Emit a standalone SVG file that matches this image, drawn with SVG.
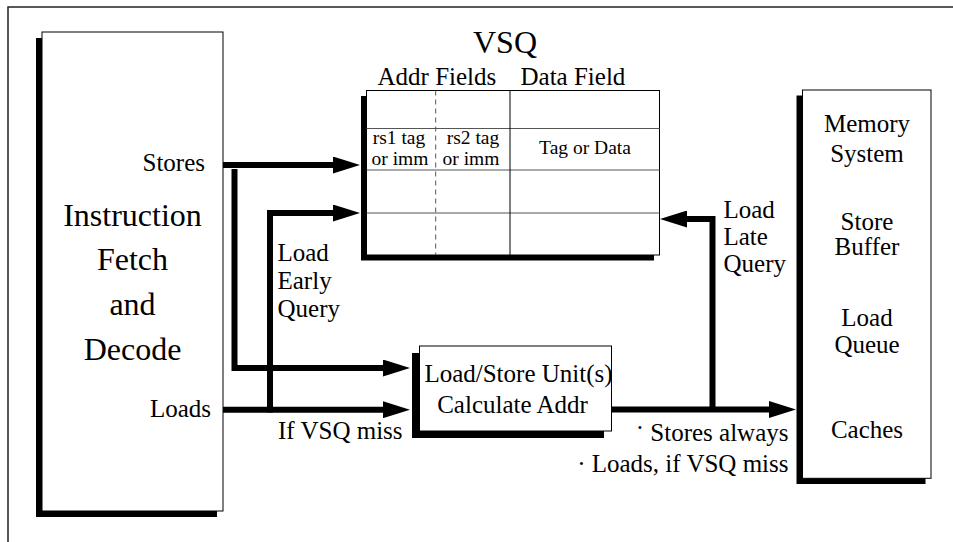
<svg xmlns="http://www.w3.org/2000/svg" width="953" height="542" viewBox="0 0 953 542">
<style>
text{font-family:"Liberation Serif","Times New Roman",serif;fill:#000}
.big{font-size:32px}
.mid{font-size:25px}
.sm{font-size:19.5px}
.c{text-anchor:middle}
.r{text-anchor:end}
.shadow{fill:#000}
.box{fill:#fff;stroke:#000;stroke-width:1}
.grid{stroke:#555;stroke-width:1;fill:none}
.conn{fill:none;stroke:#000;stroke-width:6;stroke-linejoin:miter;stroke-linecap:butt}
</style>
<defs>
<marker id="ah" viewBox="0 0 27 17" markerWidth="27" markerHeight="17" refX="0" refY="8.5" markerUnits="userSpaceOnUse" orient="auto">
<path d="M0,0 L27,8.5 L0,17 Z" fill="#000"/>
</marker>
</defs>
<rect width="953" height="542" fill="#fff"/>
<path d="M8,542 V7 H953" fill="none" stroke="#222" stroke-width="1.5"/>

<g id="ifd">
<rect class="shadow" x="36" y="38" width="181" height="479"/>
<rect class="box" x="42" y="32" width="181" height="479"/>
<text class="big c" x="132.5" y="226">Instruction</text>
<text class="big c" x="132.5" y="270">Fetch</text>
<text class="big c" x="132.5" y="315">and</text>
<text class="big c" x="132.5" y="360">Decode</text>
<text class="mid r" x="205" y="171">Stores</text>
<text class="mid r" x="211" y="417">Loads</text>
</g>

<g id="vsq">
<text class="big c" x="505" y="53">VSQ</text>
<text class="mid" x="377.5" y="85">Addr Fields</text>
<text class="mid" x="520.5" y="85">Data Field</text>
<rect class="shadow" x="361" y="96" width="293" height="164.5"/>
<rect class="box" x="366.5" y="90.5" width="293" height="164.5"/>
<path class="grid" d="M366.5,128.5 H659.5 M366.5,170 H659.5 M366.5,213 H659.5"/>
<line x1="510" y1="90.5" x2="510" y2="255" stroke="#000" stroke-width="1"/>
<line x1="435.7" y1="90.5" x2="435.7" y2="255" stroke="#555" stroke-width="1" stroke-dasharray="5,4"/>
<text class="sm c" x="399" y="144">rs1 tag</text>
<text class="sm c" x="400" y="165">or imm</text>
<text class="sm c" x="473" y="144">rs2 tag</text>
<text class="sm c" x="471" y="165">or imm</text>
<text class="sm c" x="585" y="153.5">Tag or Data</text>
</g>

<g id="lsu">
<rect class="shadow" x="412" y="353" width="192" height="85"/>
<rect class="box" x="419.5" y="346" width="192" height="85"/>
<text class="mid c" x="518.5" y="382">Load/Store Unit(s)</text>
<text class="mid c" x="512.5" y="413">Calculate Addr</text>
</g>

<g id="mem">
<rect class="shadow" x="796.5" y="95.5" width="129" height="388.5"/>
<rect class="box" x="802.5" y="90" width="128.5" height="388.3"/>
<text class="mid c" x="867" y="131.5">Memory</text>
<text class="mid c" x="867" y="161.5">System</text>
<text class="mid c" x="867" y="230">Store</text>
<text class="mid c" x="867" y="255">Buffer</text>
<text class="mid c" x="867" y="326">Load</text>
<text class="mid c" x="867" y="353">Queue</text>
<text class="mid c" x="867" y="438">Caches</text>
</g>

<g id="connectors">
<path class="conn" d="M223,165 H333" marker-end="url(#ah)"/>
<path class="conn" d="M234.5,169 V368 H383" marker-end="url(#ah)"/>
<path class="conn" d="M223,409.7 H383" marker-end="url(#ah)"/>
<path class="conn" d="M270,412.5 V213 H333" marker-end="url(#ah)"/>
<path class="conn" d="M611.5,409.5 H769" marker-end="url(#ah)"/>
<path class="conn" d="M712.5,412 V219 H687" marker-end="url(#ah)"/>
</g>

<g id="labels">
<text class="mid" x="277.5" y="261">Load</text>
<text class="mid" x="277.5" y="289">Early</text>
<text class="mid" x="277.5" y="317">Query</text>
<text class="mid" x="278" y="439">If VSQ miss</text>
<text class="mid" x="723.5" y="217.5">Load</text>
<text class="mid" x="723.5" y="245">Late</text>
<text class="mid" x="723.5" y="272">Query</text>
<text class="mid r" x="788.5" y="441"><tspan dy="-5">·</tspan><tspan dy="5"> Stores always</tspan></text>
<text class="mid r" x="788.5" y="472">· Loads, if VSQ miss</text>
</g>
</svg>
